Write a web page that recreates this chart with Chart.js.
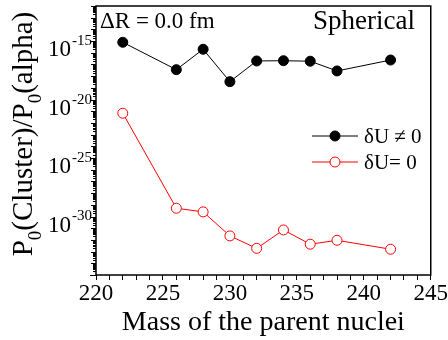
<!DOCTYPE html>
<html>
<head>
<meta charset="utf-8">
<script src="https://cdn.jsdelivr.net/npm/chart.js@4.4.1/dist/chart.umd.min.js"></script>
<style>
html,body{margin:0;padding:0;background:#fff;}
canvas{display:block;}
</style>
</head>
<body>
<canvas id="c" width="448" height="340"></canvas>
<script>
// ---- data ----
const massNumbers = [222, 226, 228, 230, 232, 234, 236, 238, 242];
const withDeltaU = [7.9e-16, 3.6e-18, 2.0e-16, 3.4e-19, 2.0e-17, 2.1e-17, 1.9e-17, 2.8e-18, 2.4e-17];
const withoutDeltaU = [6.8e-22, 5.1e-30, 2.5e-30, 2.2e-32, 1.9e-33, 7.1e-32, 4.3e-33, 9.3e-33, 1.6e-33];
const seriesLabels = ['\u03b4U \u2260 0', '\u03b4U= 0'];
const xTickLabels = [220, 225, 230, 235, 240, 245];
const yTickExponents = [-15, -20, -25, -30];
const yMinExp = -35;
const yMaxExp = -12;
const annotationLeft = '\u0394R = 0.0 fm';
const annotationRight = 'Spherical';
const xTitle = 'Mass of the parent nuclei';

const FONT = '"Liberation Serif", "Times New Roman", serif';

const decor = {
  id: 'decor',
  afterDraw(chart) {
    const {ctx, chartArea: a, scales: {x, y}} = chart;
    ctx.save();
    ctx.fillStyle = '#000';
    ctx.strokeStyle = '#000';
    // y ticks (log minor ticks)
    ctx.lineWidth = 1;
    for (let n = yMinExp; n <= yMaxExp; n++) {
      for (let m = 1; m <= 9; m++) {
        if (n === yMaxExp && m > 1) continue;
        const v = m * Math.pow(10, n);
        const py = Math.round(y.getPixelForValue(v)) + 0.5;
        let len = 3;
        if (m === 1) len = (n % 5 === 0) ? 6 : 5;
        ctx.beginPath();
        ctx.moveTo(a.left, py);
        ctx.lineTo(a.left - len, py);
        ctx.stroke();
      }
    }
    // y tick labels 10^n
    ctx.textAlign = 'right';
    ctx.textBaseline = 'middle';
    yTickExponents.forEach(e => {
      const py = y.getPixelForValue(Math.pow(10, e));
      ctx.font = '15px ' + FONT;
      const sup = String(e);
      const sw = ctx.measureText(sup).width;
      ctx.fillText(sup, a.left - 4, py);
      ctx.font = '23px ' + FONT;
      ctx.fillText('10', a.left - 5 - sw, py + 9);
    });
    // frame
    ctx.lineWidth = 1.5;
    ctx.strokeRect(a.left, a.top, a.right - a.left, a.bottom - a.top);

    // y title with subscripts
    const segs = [['P', 29, 0], ['0', 19, 9], ['(Cluster)/P', 29, 0], ['0', 19, 9], ['(alpha)', 29, 0]];
    let total = 0;
    segs.forEach(s => { ctx.font = s[1] + 'px ' + FONT; s.push(ctx.measureText(s[0]).width); total += s[3]; });
    ctx.save();
    ctx.translate(32, 134);
    ctx.rotate(-Math.PI / 2);
    ctx.textAlign = 'left';
    ctx.textBaseline = 'alphabetic';
    let cx = -total / 2;
    segs.forEach(s => {
      ctx.font = s[1] + 'px ' + FONT;
      ctx.fillText(s[0], cx, s[2]);
      cx += s[3];
    });
    ctx.restore();

    // annotations
    ctx.textBaseline = 'alphabetic';
    ctx.textAlign = 'left';
    ctx.font = '23px ' + FONT;
    ctx.fillText(annotationLeft, a.left + 4, 28);
    ctx.textAlign = 'right';
    ctx.font = '27px ' + FONT;
    ctx.fillText(annotationRight, 415, 29);

    // legend
    const items = [
      {label: seriesLabels[0], color: '#000', fill: '#000', y: 136},
      {label: seriesLabels[1], color: '#ff0000', fill: '#fff', y: 162}
    ];
    items.forEach(it => {
      ctx.strokeStyle = it.color;
      ctx.lineWidth = 1;
      ctx.beginPath();
      ctx.moveTo(312, it.y);
      ctx.lineTo(358, it.y);
      ctx.stroke();
      ctx.beginPath();
      ctx.arc(335, it.y, 5, 0, Math.PI * 2);
      ctx.fillStyle = it.fill;
      ctx.fill();
      ctx.stroke();
      ctx.fillStyle = '#000';
      ctx.textAlign = 'left';
      ctx.textBaseline = 'alphabetic';
      ctx.font = '21px ' + FONT;
      ctx.fillText(it.label, 364, it.y + 7);
    });
    ctx.restore();
  }
};

new Chart(document.getElementById('c'), {
  type: 'line',
  data: {
    datasets: [
      {
        label: seriesLabels[0],
        data: massNumbers.map((m, i) => ({x: m, y: withDeltaU[i]})),
        borderColor: '#000',
        backgroundColor: '#000',
        pointBackgroundColor: '#000',
        pointBorderColor: '#000',
        borderWidth: 1,
        pointRadius: 5,
        pointBorderWidth: 1,
        tension: 0
      },
      {
        label: seriesLabels[1],
        data: massNumbers.map((m, i) => ({x: m, y: withoutDeltaU[i]})),
        borderColor: '#ff0000',
        backgroundColor: '#fff',
        pointBackgroundColor: '#fff',
        pointBorderColor: '#ff0000',
        borderWidth: 1,
        pointRadius: 5,
        pointBorderWidth: 1,
        tension: 0
      }
    ]
  },
  options: {
    responsive: false,
    animation: false,
    layout: {padding: {top: 6, right: 16, left: 0, bottom: 0}},
    plugins: {legend: {display: false}, tooltip: {enabled: false}},
    scales: {
      x: {
        type: 'linear',
        min: xTickLabels[0],
        max: xTickLabels[xTickLabels.length - 1],
        afterFit(s) { s.height = 65; },
        ticks: {
          stepSize: 1,
          autoSkip: false,
          maxRotation: 0,
          padding: 0,
          color: '#000',
          font: {family: FONT, size: 23},
          callback: v => xTickLabels.includes(v) ? String(v) : ''
        },
        grid: {drawOnChartArea: false, drawTicks: true, tickLength: 5, color: '#000', lineWidth: 1},
        border: {display: false},
        title: {display: true, text: xTitle, color: '#000', font: {family: FONT, size: 28}, padding: {top: 0, bottom: 1}}
      },
      y: {
        type: 'logarithmic',
        min: Math.pow(10, yMinExp),
        max: Math.pow(10, yMaxExp),
        afterFit(s) { s.width = 96; },
        ticks: {display: false},
        grid: {display: false},
        border: {display: false}
      }
    }
  },
  plugins: [decor]
});
</script>
</body>
</html>
